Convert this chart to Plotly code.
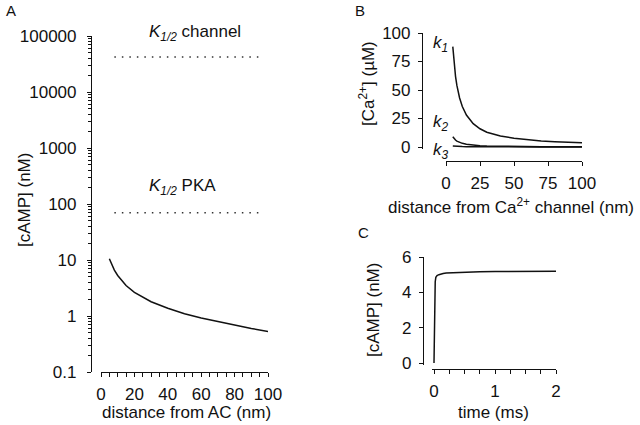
import plotly.graph_objects as go

# ---------- data ----------
# Panel A: cAMP vs distance from AC
dist_a = [5, 6, 7, 8, 10, 12, 15, 20, 25, 30, 40, 50, 60, 70, 80, 90, 100]
camp_a = [10.5, 8.8, 7.5, 6.6, 5.3, 4.4, 3.5, 2.65, 2.15, 1.8, 1.38, 1.1, 0.92, 0.79, 0.69, 0.6, 0.53]
k_channel = 42000
k_pka = 70
k_line_x = [8, 96]
a_yticks = [0.1, 1, 10, 100, 1000, 10000, 100000]
a_yticktext = ["0.1", "1", "10", "100", "1000", "10000", "100000"]
a_xticks = [0, 20, 40, 60, 80, 100]

# Panel B: Ca2+ vs distance from channel
dist_b = [5, 6, 7, 8, 10, 12, 15, 20, 25, 30, 40, 50, 60, 70, 80, 90, 100]
ca_k1 = [88, 73, 62, 54, 43, 35.5, 28, 20.5, 16, 13, 9.6, 7.7, 6.3, 5.3, 4.6, 4.1, 3.7]
ca_k2 = [9, 7.3, 6.1, 5.2, 4.0, 3.2, 2.4, 1.6, 1.15, 0.9, 0.6, 0.45, 0.35, 0.3, 0.25, 0.22, 0.2]
ca_k3 = [0.9, 0.75, 0.63, 0.55, 0.43, 0.35, 0.27, 0.19, 0.15, 0.12, 0.09, 0.07, 0.06, 0.05, 0.045, 0.04, 0.035]
b_yticks = [0, 25, 50, 75, 100]
b_xticks = [0, 25, 50, 75, 100]

# Panel C: cAMP vs time
time_c = [0, 0.005, 0.01, 0.015, 0.02, 0.03, 0.05, 0.08, 0.1, 0.15, 0.2, 0.3, 0.5, 0.75, 1.0, 1.5, 2.0]
camp_c = [0, 1.5, 3.2, 4.2, 4.6, 4.85, 4.95, 5.0, 5.03, 5.07, 5.1, 5.12, 5.15, 5.17, 5.18, 5.19, 5.2]
c_yticks = [0, 2, 4, 6]
c_xticks = [0, 1, 2]

# ---------- helpers ----------
W, H = 640, 425
def px(x):
    return x / W
def py(y):
    return 1 - y / H

FONT = "Liberation Sans, Arial, Helvetica, sans-serif"
FS = 17
BLACK = "#111111"

fig = go.Figure()

line = dict(color=BLACK, width=1.5)
dot = dict(color="#333333", width=1.5, dash="1.5px,6px")

# Panel A
fig.add_trace(go.Scatter(x=dist_a, y=camp_a, mode="lines", line=line, xaxis="x", yaxis="y"))
fig.add_trace(go.Scatter(x=k_line_x, y=[k_channel, k_channel], mode="lines", line=dot, xaxis="x", yaxis="y"))
fig.add_trace(go.Scatter(x=k_line_x, y=[k_pka, k_pka], mode="lines", line=dot, xaxis="x", yaxis="y"))

# Panel B
for ys in (ca_k1, ca_k2, ca_k3):
    fig.add_trace(go.Scatter(x=dist_b, y=ys, mode="lines", line=line, xaxis="x2", yaxis="y2"))

# Panel C
fig.add_trace(go.Scatter(x=time_c, y=camp_c, mode="lines", line=line, xaxis="x3", yaxis="y3"))

axis_common = dict(showline=True, linecolor=BLACK, linewidth=1.2, ticks="outside",
                   tickcolor=BLACK, tickwidth=1.2, ticklen=4, showgrid=False, zeroline=False,
                   automargin=False,
                   tickfont=dict(family=FONT, size=FS, color=BLACK))

# Panel A axes
a_y_bottom, a_y_top = 372, 36
fig.update_layout(
    xaxis=dict(axis_common, domain=[px(101), px(268)], range=[0, 100], anchor="y",
               tickvals=a_xticks, ticklabelstandoff=2,
               minor=dict(dtick=5, ticks="outside", ticklen=4, tickcolor=BLACK, tickwidth=1.2)),
    yaxis=dict(axis_common, type="log", domain=[py(a_y_bottom), py(a_y_top)], range=[-1, 5],
               anchor="free", position=px(91), tickvals=a_yticks, ticktext=a_yticktext,
               ticklabelstandoff=7,
               minor=dict(dtick="D1", ticks="outside", ticklen=2.5, tickcolor=BLACK, tickwidth=1)),
)

# Panel B axes  (0 at y=147, 100 at y=33)
b_scale = (147 - 33) / 100
b_ymin = -1.5
fig.update_layout(
    xaxis2=dict(axis_common, domain=[px(446), px(582)], range=[0, 100], anchor="free",
                position=py(161), tickvals=b_xticks, ticklabelstandoff=2),
    yaxis2=dict(axis_common, domain=[py(147 - b_ymin * b_scale), py(33)], range=[b_ymin, 100],
                anchor="free", position=px(422), tickvals=b_yticks, ticklabelstandoff=4),
)

# Panel C axes  (x: 0 at 434, 2 at 556 ; y: 0 at 363, 6 at 257)
c_xs = (556 - 434) / 2
c_xmin = -0.03
c_ys = (363 - 257) / 6
c_ymin = -0.1
fig.update_layout(
    xaxis3=dict(axis_common, domain=[px(434 + c_xmin * c_xs), px(556)], range=[c_xmin, 2],
                anchor="free", position=py(369), tickvals=c_xticks, ticklabelstandoff=2,
                minor=dict(dtick=0.25, ticks="outside", ticklen=4, tickcolor=BLACK, tickwidth=1.2)),
    yaxis3=dict(axis_common, domain=[py(363 - c_ymin * c_ys), py(257)], range=[c_ymin, 6],
                anchor="free", position=px(423), tickvals=c_yticks, ticklabelstandoff=4),
)

def ann(text, x, y, xanchor="center", angle=0, size=FS):
    fig.add_annotation(text=text, x=px(x), y=py(y), xref="paper", yref="paper",
                       xanchor=xanchor, yanchor="middle", showarrow=False, textangle=angle,
                       font=dict(family=FONT, size=size, color=BLACK))

# titles
ann("distance from AC (nm)", 186, 412)
ann("[cAMP] (nM)", 24, 200, angle=-90)
ann("distance from Ca<sup>2+</sup> channel (nm)", 511, 206)
ann("[Ca<sup>2+</sup>] (µM)", 367, 84, angle=-90)
ann("time (ms)", 493, 412)
ann("[cAMP] (nM)", 373, 310, angle=-90)

# in-plot labels
ann("<i>K</i><sub><i>1/2</i></sub> channel", 147, 33, xanchor="left")
ann("<i>K</i><sub><i>1/2</i></sub> PKA", 147, 187, xanchor="left")
ann("<i>k</i><sub><i>1</i></sub>", 431, 44, xanchor="left")
ann("<i>k</i><sub><i>2</i></sub>", 431, 123, xanchor="left")
ann("<i>k</i><sub><i>3</i></sub>", 431, 151, xanchor="left")

# panel letters
ann("A", 4, 11, xanchor="left", size=15)
ann("B", 353, 11, xanchor="left", size=15)
ann("C", 356, 232, xanchor="left", size=15)

fig.update_layout(width=W, height=H, margin=dict(l=0, r=0, t=0, b=0, autoexpand=False),
                  paper_bgcolor="white", plot_bgcolor="white", showlegend=False)

fig.write_html("out.html", config={"displayModeBar": False},
               post_script="document.body.style.margin='0';document.body.style.overflow='hidden';")
